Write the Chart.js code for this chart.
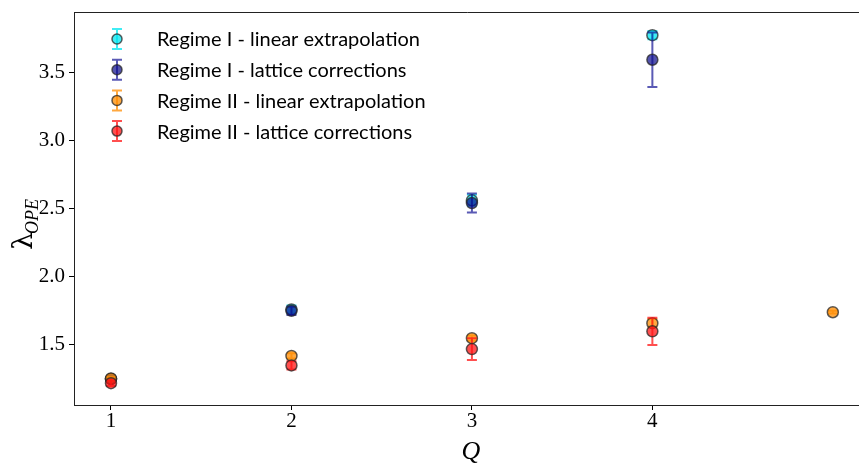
<!DOCTYPE html>
<html>
<head>
<meta charset="utf-8">
<script src="https://cdn.jsdelivr.net/npm/chart.js@4.4.0/dist/chart.umd.min.js"></script>
<style>
  html, body { margin: 0; padding: 0; background: #fff; }
</style>
</head>
<body>
<canvas id="chart" width="859" height="464"></canvas>
<script>
// tick labels
const qTicks = [1, 2, 3, 4];
const yTicks = [1.5, 2.0, 2.5, 3.0, 3.5];

// Regime I - linear extrapolation
const r1LinQ = [1, 2, 3, 4];
const r1LinVal = [1.25, 1.76, 2.56, 3.77];
const r1LinErr = [0.02, 0.03, 0.04, 0.03];

// Regime I - lattice corrections
const r1LatQ = [1, 2, 3, 4];
const r1LatVal = [1.25, 1.75, 2.54, 3.59];
const r1LatErr = [0.02, 0.03, 0.07, 0.2];

// Regime II - linear extrapolation
const r2LinQ = [1, 2, 3, 4, 5];
const r2LinVal = [1.255, 1.42, 1.55, 1.66, 1.74];
const r2LinErr = [0.01, 0.02, 0.02, 0.03, 0.01];

// Regime II - lattice corrections
const r2LatQ = [1, 2, 3, 4];
const r2LatVal = [1.22, 1.35, 1.47, 1.60];
const r2LatErr = [0.02, 0.03, 0.08, 0.1];

const SERIES = [
  { label: 'Regime I - linear extrapolation', q: r1LinQ, v: r1LinVal, e: r1LinErr, fill: 'rgba(0,230,240,0.75)', bar: 'rgba(0,230,240,0.75)' },
  { label: 'Regime I - lattice corrections', q: r1LatQ, v: r1LatVal, e: r1LatErr, fill: 'rgba(10,10,140,0.7)', bar: 'rgba(20,20,150,0.7)' },
  { label: 'Regime II - linear extrapolation', q: r2LinQ, v: r2LinVal, e: r2LinErr, fill: 'rgba(255,140,0,0.75)', bar: 'rgba(255,140,0,0.75)' },
  { label: 'Regime II - lattice corrections', q: r2LatQ, v: r2LatVal, e: r2LatErr, fill: 'rgba(255,20,20,0.75)', bar: 'rgba(255,20,20,0.75)' },
];

const EDGE = 'rgba(40,40,40,0.75)';

function drawErrBar(ctx, x, y0, y1, color) {
  ctx.save();
  ctx.strokeStyle = color;
  ctx.lineWidth = 2;
  ctx.beginPath();
  ctx.moveTo(x, y0); ctx.lineTo(x, y1);
  ctx.moveTo(x - 5, y0); ctx.lineTo(x + 5, y0);
  ctx.moveTo(x - 5, y1); ctx.lineTo(x + 5, y1);
  ctx.stroke();
  ctx.restore();
}

// error bars drawn right before each dataset's markers
const errorBars = {
  id: 'errorBars',
  beforeDatasetDraw(chart, args) {
    const s = SERIES[args.index];
    const xs = chart.scales.x, ys = chart.scales.y;
    const ctx = chart.ctx;
    const a = chart.chartArea;
    ctx.save();
    ctx.beginPath();
    ctx.rect(a.left, a.top, a.right - a.left, a.bottom - a.top);
    ctx.clip();
    s.q.forEach((q, i) => {
      const x = xs.getPixelForValue(q);
      drawErrBar(ctx, x, ys.getPixelForValue(s.v[i] + s.e[i]), ys.getPixelForValue(s.v[i] - s.e[i]), s.bar);
    });
    ctx.restore();
  }
};

const decorations = {
  id: 'decorations',
  afterDraw(chart) {
    const ctx = chart.ctx;
    const a = chart.chartArea;
    // frame
    ctx.save();
    ctx.strokeStyle = '#222';
    ctx.lineWidth = 1;
    ctx.beginPath();
    ctx.moveTo(a.left + 0.5, a.bottom + 0.5);
    ctx.lineTo(a.left + 0.5, a.top + 0.5);
    ctx.lineTo(a.right + 1, a.top + 0.5);
    ctx.stroke();

    // legend, font sized so the first entry spans ~263px like the reference
    ctx.font = '20px Lato';
    const w = ctx.measureText(SERIES[0].label).width;
    const fs = 20 * 263 / w;
    ctx.font = fs.toFixed(2) + 'px Lato';
    ctx.textBaseline = 'middle';
    SERIES.forEach((s, i) => {
      const y = 39 + i * 30.7;
      const x = 117;
      drawErrBar(ctx, x, y - 10, y + 10, s.bar);
      ctx.beginPath();
      ctx.arc(x, y, 5, 0, Math.PI * 2);
      ctx.fillStyle = s.fill;
      ctx.fill();
      ctx.lineWidth = 1.5;
      ctx.strokeStyle = EDGE;
      ctx.stroke();
      ctx.fillStyle = '#000';
      ctx.fillText(s.label, 157, y + 1);
    });

    // axis titles
    ctx.fillStyle = '#000';
    ctx.font = 'italic 26px "Liberation Serif"';
    ctx.textAlign = 'center';
    ctx.textBaseline = 'alphabetic';
    ctx.fillText('Q', 471, 459);

    ctx.translate(32, 212);
    ctx.rotate(-Math.PI / 2);
    ctx.textAlign = 'left';
    ctx.font = '28px "DejaVu Serif"';
    ctx.fillText('\u03bb', -38, 0);
    ctx.font = 'italic 18px "Liberation Serif"';
    ctx.fillText('OPE', -22, 6);
    ctx.restore();
  }
};

const tickFont = { family: '"Liberation Serif"', size: 21 };

function noPad(s) {
  s.paddingLeft = 0; s.paddingRight = 0; s.paddingTop = 0; s.paddingBottom = 0;
}

new Chart(document.getElementById('chart'), {
  type: 'scatter',
  data: {
    datasets: SERIES.map((s, k) => ({
      label: s.label,
      data: s.q.map((q, i) => ({ x: q, y: s.v[i] })),
      backgroundColor: s.fill,
      borderColor: EDGE,
      borderWidth: 1.5,
      pointRadius: 5.5,
      pointHoverRadius: 5.5,
      showLine: false,
      order: SERIES.length - 1 - k
    }))
  },
  options: {
    responsive: false,
    animation: false,
    layout: { autoPadding: false, padding: { top: 12, right: 0, left: 0, bottom: 0 } },
    plugins: { legend: { display: false }, tooltip: { enabled: false } },
    scales: {
      x: {
        type: 'linear',
        min: 0.795,
        max: 5.145,
        afterBuildTicks: s => { s.ticks = qTicks.map(v => ({ value: v })); },
        afterFit: s => { s.height = 59; noPad(s); },
        ticks: { font: tickFont, color: '#000', padding: -1, maxRotation: 0, callback: v => String(v) },
        grid: { drawOnChartArea: false, drawTicks: true, tickLength: 5, color: '#000' },
        border: { display: true, color: '#222', width: 1 }
      },
      y: {
        type: 'linear',
        min: 1.06,
        max: 3.94,
        afterBuildTicks: s => { s.ticks = yTicks.map(v => ({ value: v })); },
        afterFit: s => { s.width = 74; noPad(s); },
        ticks: { font: tickFont, color: '#000', padding: 4, callback: v => v.toFixed(1) },
        grid: { drawOnChartArea: false, drawTicks: true, tickLength: 5, color: '#000' },
        border: { display: true, color: '#222', width: 1 }
      }
    }
  },
  plugins: [errorBars, decorations]
});
</script>
</body>
</html>
